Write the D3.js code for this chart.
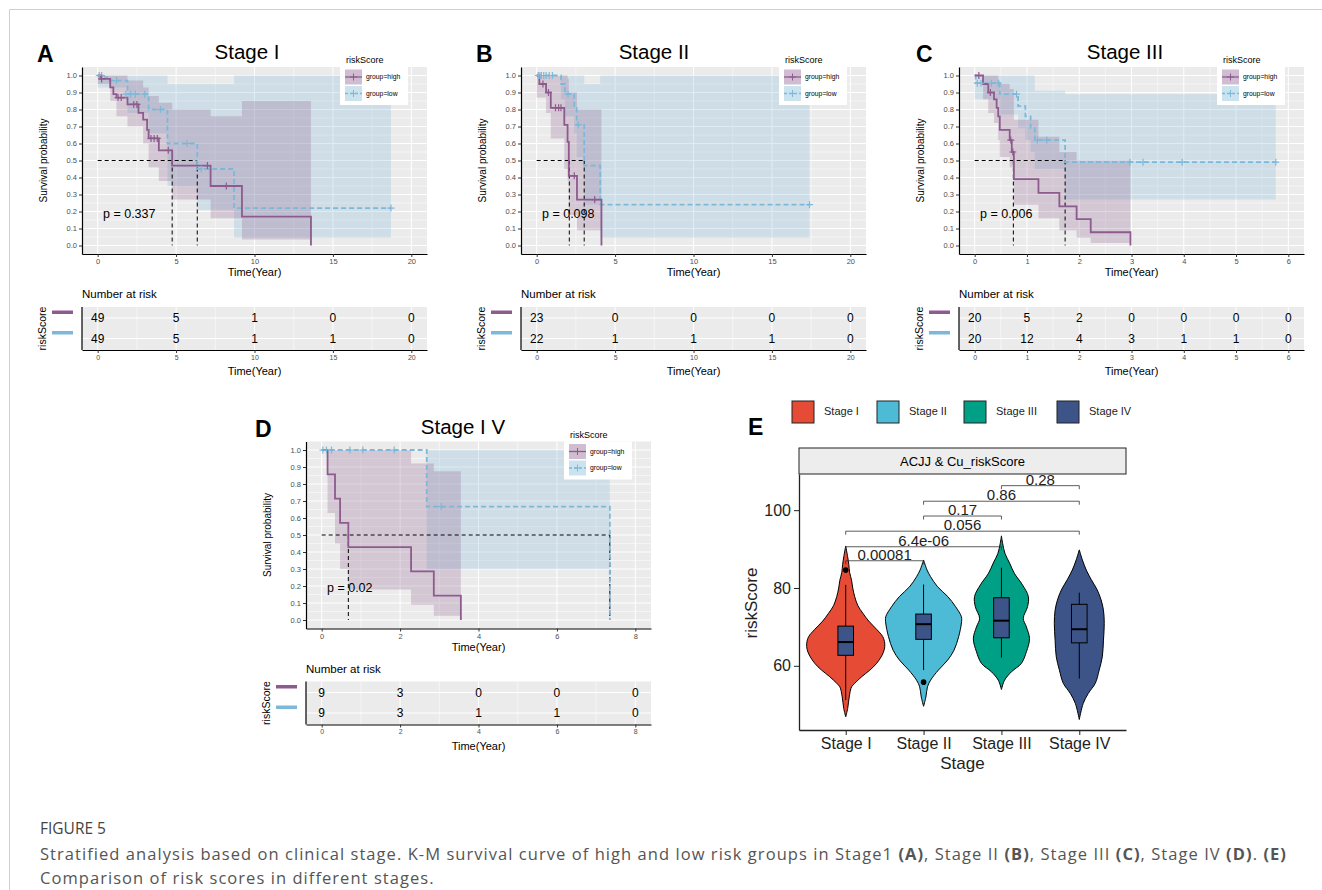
<!DOCTYPE html>
<html>
<head>
<meta charset="utf-8">
<script src="https://cdn.jsdelivr.net/npm/d3@7"></script>
<style>
  body { margin: 0; background: #fff; }
  text { font-family: Arial, "Liberation Sans", sans-serif; }
</style>
</head>
<body>
<svg id="fig" width="1322" height="890"></svg>
<script>
// ---------- KM panels (A-D) ----------
const kmTitles = ["Stage I", "Stage II", "Stage III", "Stage I V"];
const kmLetters = ["A", "B", "C", "D"];
const kmPvals = ["p = 0.337", "p = 0.098", "p = 0.006", "p = 0.02"];
const kmTicks = [[0, 5, 10, 15, 20], [0, 5, 10, 15, 20], [0, 1, 2, 3, 4, 5, 6], [0, 2, 4, 6, 8]];
const kmMedians = [[4.75, 6.35], [2.08, 3.03], [0.74, 1.73], [0.68, 7.35]];
const groupLabels = ["group=high", "group=low"];

// number at risk, one value per x tick
const riskHigh = [[49, 5, 1, 0, 0], [23, 0, 0, 0, 0], [20, 5, 2, 0, 0, 0, 0], [9, 3, 0, 0, 0]];
const riskLow = [[49, 5, 1, 1, 0], [22, 1, 1, 1, 0], [20, 12, 4, 3, 1, 1, 0], [9, 3, 1, 1, 0]];

// survival steps [time, surv]
const stage1High = [[0, 1], [0.15, 0.98], [0.8, 0.93], [1.0, 0.89], [1.2, 0.87], [1.9, 0.83], [2.6, 0.78], [2.9, 0.74], [3.15, 0.68], [3.25, 0.63], [3.9, 0.56], [4.75, 0.47], [7.2, 0.35], [9.2, 0.17], [13.6, 0]];
const stage1Low = [[0, 1], [0.3, 0.99], [0.6, 0.97], [1.9, 0.89], [3.25, 0.80], [4.45, 0.60], [6.35, 0.45], [8.7, 0.22], [18.7, 0.22]];
const stage2High = [[0, 1], [0.17, 0.95], [0.6, 0.90], [0.9, 0.81], [1.76, 0.71], [1.97, 0.61], [2.05, 0.41], [2.57, 0.27], [4.13, 0]];
const stage2Low = [[0, 1], [1.55, 0.95], [1.8, 0.89], [2.4, 0.81], [2.55, 0.71], [3.03, 0.47], [4.05, 0.24], [17.4, 0.24]];
const stage3High = [[0, 1], [0.16, 0.95], [0.26, 0.90], [0.37, 0.86], [0.42, 0.81], [0.45, 0.76], [0.48, 0.68], [0.67, 0.62], [0.71, 0.55], [0.75, 0.39], [1.22, 0.31], [1.62, 0.23], [1.95, 0.155], [2.22, 0.078], [2.98, 0]];
const stage3Low = [[0, 1], [0.02, 0.955], [0.48, 0.89], [0.83, 0.82], [0.97, 0.76], [1.07, 0.69], [1.15, 0.62], [1.73, 0.49], [5.76, 0.49]];
const stage4High = [[0, 1], [0.15, 0.857], [0.34, 0.714], [0.47, 0.571], [0.68, 0.429], [2.28, 0.286], [2.86, 0.143], [3.55, 0]];
const stage4Low = [[0, 1], [2.68, 0.667], [7.35, 0]];

// censor marks [time, surv]
const stage1HighCens = [[0.25, 0.98], [1.3, 0.87], [1.5, 0.87], [2.3, 0.83], [2.5, 0.83], [3.4, 0.63], [3.6, 0.63], [3.8, 0.63], [4.5, 0.56], [7.0, 0.47], [8.2, 0.35]];
const stage1LowCens = [[0.1, 1], [0.25, 1], [1.2, 0.97], [1.8, 0.89], [2.1, 0.89], [2.4, 0.89], [3.0, 0.89], [4.0, 0.80], [5.7, 0.60], [6.6, 0.45], [18.7, 0.22]];
const stage2HighCens = [[0.4, 0.95], [0.75, 0.90], [1.2, 0.81], [1.4, 0.81], [1.55, 0.81], [2.4, 0.41], [3.7, 0.27]];
const stage2LowCens = [[0.1, 1], [0.2, 1], [0.3, 1], [0.45, 1], [0.6, 1], [0.8, 1], [1.0, 1], [2.0, 0.89], [2.65, 0.71], [17.4, 0.24]];
const stage3HighCens = [[0.08, 1], [0.3, 0.90], [0.69, 0.62], [0.73, 0.55]];
const stage3LowCens = [[0.05, 0.955], [0.12, 0.955], [0.32, 0.955], [0.45, 0.955], [0.8, 0.89], [1.2, 0.62], [1.38, 0.62], [2.97, 0.49], [3.22, 0.49], [3.97, 0.49], [5.76, 0.49]];
const stage4HighCens = [];
const stage4LowCens = [[0.03, 1], [0.12, 1], [0.25, 1], [0.72, 1], [1.05, 1], [1.85, 1], [3.05, 0.667]];

// confidence bands [time, lower, upper]
const stage1HighBand = [[0, 0.95, 1], [0.8, 0.85, 1], [1.2, 0.76, 1], [1.9, 0.70, 0.97], [2.9, 0.60, 0.93], [3.25, 0.46, 0.88], [3.9, 0.38, 0.84], [4.75, 0.27, 0.80], [7.2, 0.16, 0.76], [9.2, 0.035, 0.85], [13.6, 0.035, 0.85]];
const stage1LowBand = [[0, 0.93, 1], [1.9, 0.78, 1], [3.25, 0.66, 1], [4.45, 0.35, 0.95], [6.35, 0.21, 0.95], [8.7, 0.045, 1], [18.7, 0.045, 1]];
const stage2HighBand = [[0, 0.87, 1], [0.6, 0.78, 1], [0.9, 0.63, 1], [1.76, 0.45, 1], [1.97, 0.38, 0.98], [2.05, 0.18, 0.90], [2.57, 0.09, 0.80], [4.13, 0.09, 0.80]];
const stage2LowBand = [[0, 1, 1], [1.55, 0.86, 1], [1.8, 0.76, 1], [2.4, 0.66, 1], [2.55, 0.52, 1], [3.03, 0.24, 0.95], [4.05, 0.045, 1], [17.4, 0.045, 1]];
const stage3HighBand = [[0, 1, 1], [0.16, 0.86, 1], [0.26, 0.78, 1], [0.37, 0.72, 1], [0.45, 0.62, 0.97], [0.48, 0.52, 0.95], [0.67, 0.46, 0.92], [0.75, 0.24, 0.74], [1.22, 0.16, 0.64], [1.62, 0.09, 0.55], [1.95, 0.045, 0.50], [2.22, 0.015, 0.50], [2.98, 0.015, 0.50]];
const stage3LowBand = [[0, 0.86, 1], [0.48, 0.77, 1], [0.83, 0.69, 1], [0.97, 0.62, 1], [1.07, 0.55, 1], [1.15, 0.45, 0.91], [1.73, 0.27, 0.89], [5.76, 0.27, 0.89]];
const stage4HighBand = [[0, 1, 1], [0.15, 0.63, 1], [0.34, 0.45, 1], [0.47, 0.30, 1], [0.68, 0.18, 1], [2.28, 0.09, 0.92], [2.86, 0.025, 0.875], [3.55, 0.025, 0.875]];
const stage4LowBand = [[0, 1, 1], [2.68, 0.30, 1], [7.35, 0.30, 1]];

const highCurves = [stage1High, stage2High, stage3High, stage4High];
const lowCurves = [stage1Low, stage2Low, stage3Low, stage4Low];
const highCens = [stage1HighCens, stage2HighCens, stage3HighCens, stage4HighCens];
const lowCens = [stage1LowCens, stage2LowCens, stage3LowCens, stage4LowCens];
const highBands = [stage1HighBand, stage2HighBand, stage3HighBand, stage4HighBand];
const lowBands = [stage1LowBand, stage2LowBand, stage3LowBand, stage4LowBand];

// ---------- violin panel (E) ----------
const stages = ["Stage I", "Stage II", "Stage III", "Stage IV"];
const stageColors = ["#E64B35", "#4DBBD5", "#00A087", "#3C5488"];
// violin outline: [riskScore, relative half width]
const violinI = [[46.9, 0], [49, 0.05], [52, 0.09], [54.6, 0.15], [55.5, 0.23], [57.2, 0.41], [58.9, 0.62], [60.6, 0.79], [62.5, 0.92], [64.2, 0.99], [65.8, 1], [67.5, 0.95], [69.4, 0.79], [71.5, 0.59], [73.5, 0.44], [75.5, 0.31], [77.8, 0.23], [80, 0.18], [82, 0.15], [84, 0.1], [86, 0.08], [88, 0.05], [90.8, 0]];
const violinII = [[49.6, 0], [52, 0.06], [54.6, 0.1], [56.3, 0.18], [58.9, 0.38], [61.5, 0.62], [64, 0.78], [67.5, 0.9], [71, 0.97], [72.6, 0.97], [75.2, 0.82], [77.8, 0.62], [80.3, 0.36], [82.9, 0.18], [84.6, 0.09], [87.2, 0]];
const violinIII = [[53.9, 0], [56.3, 0.08], [58.5, 0.26], [60.6, 0.51], [63.6, 0.64], [67, 0.72], [70, 0.64], [72.2, 0.56], [75.2, 0.67], [77.8, 0.69], [80.8, 0.54], [83.8, 0.33], [86.4, 0.21], [88.9, 0.09], [91.5, 0.03], [93.4, 0]];
const violinIV = [[46.2, 0], [50.3, 0.1], [52.9, 0.23], [55.5, 0.41], [58.9, 0.51], [62.3, 0.59], [66.6, 0.62], [70.9, 0.64], [74.3, 0.62], [76.9, 0.56], [79.5, 0.46], [82.1, 0.31], [84.6, 0.18], [87.2, 0.08], [89.8, 0]];
const violins = [violinI, violinII, violinIII, violinIV];
// box stats: [lower whisker, q1, median, q3, upper whisker]
const boxStats = [[51.2, 62.7, 66.1, 70.2, 80.8], [58.9, 66.8, 70.7, 73.3, 80.9], [62.1, 67.2, 71.6, 77.5, 85.2], [56.7, 65.9, 69.4, 75.8, 78.8]];
const outliers = [[84.6], [55.8], [], []];
const compPairs = [[0, 1], [0, 2], [0, 3], [1, 2], [1, 3], [2, 3]];
const compLabels = ["0.00081", "6.4e-06", "0.056", "0.17", "0.86", "0.28"];
const compY = [87.0, 90.6, 94.6, 98.5, 102.3, 106.3];
const scoreTicks = [60, 80, 100];

// ---------- drawing ----------
const svg = d3.select("#fig");
const HIGH = "#8D5B8D", LOW = "#7DB8D8";
const PW = 345, PH = 187;
const kmLayout = [
  { x: 82, y: 67, titleX: 247, letterX: 37 },
  { x: 521, y: 67, titleX: 654, letterX: 476 },
  { x: 959, y: 67, titleX: 1125, letterX: 916 },
  { x: 306, y: 441.5, titleX: 463, letterX: 255 }
];

// figure frame
svg.append("line").attr("x1", 9.5).attr("x2", 1322).attr("y1", 9.5).attr("y2", 9.5).attr("stroke", "#cfcfcf");
svg.append("line").attr("x1", 9.5).attr("x2", 9.5).attr("y1", 9.5).attr("y2", 890).attr("stroke", "#cfcfcf");

function plus(g, pts, x, y, color) {
  g.selectAll(null).data(pts).join("path")
    .attr("transform", d => `translate(${x(d[0])},${y(d[1])})`)
    .attr("d", "M-3.5,0H3.5M0,-3.5V3.5")
    .attr("stroke", color).attr("stroke-width", 1.2).attr("fill", "none");
}

function drawKM(i) {
  const L = kmLayout[i];
  const ticks = kmTicks[i];
  const tmax = ticks[ticks.length - 1];
  const step = ticks[1] - ticks[0];
  const x = d3.scaleLinear().domain([-0.05 * tmax, 1.05 * tmax]).range([L.x, L.x + PW]);
  const y = d3.scaleLinear().domain([-0.05, 1.05]).range([L.y + PH, L.y]);
  const fmtX = d3.format("~g");
  const g = svg.append("g");

  // panel + grid
  g.append("rect").attr("x", L.x).attr("y", L.y).attr("width", PW).attr("height", PH).attr("fill", "#EBEBEB");
  const minorX = ticks.slice(0, -1).map(t => t + step / 2);
  const minorY = d3.range(0.05, 1.0, 0.1);
  g.selectAll(null).data(minorX).join("line")
    .attr("x1", d => x(d)).attr("x2", d => x(d)).attr("y1", L.y).attr("y2", L.y + PH)
    .attr("stroke", "#fff").attr("stroke-width", 0.5);
  g.selectAll(null).data(minorY).join("line")
    .attr("y1", d => y(d)).attr("y2", d => y(d)).attr("x1", L.x).attr("x2", L.x + PW)
    .attr("stroke", "#fff").attr("stroke-width", 0.5);
  g.selectAll(null).data(ticks).join("line")
    .attr("x1", d => x(d)).attr("x2", d => x(d)).attr("y1", L.y).attr("y2", L.y + PH)
    .attr("stroke", "#fff").attr("stroke-width", 1);
  g.selectAll(null).data(d3.range(0, 11).map(k => k / 10)).join("line")
    .attr("y1", d => y(d)).attr("y2", d => y(d)).attr("x1", L.x).attr("x2", L.x + PW)
    .attr("stroke", "#fff").attr("stroke-width", 1);

  // confidence bands
  const band = d3.area().curve(d3.curveStepAfter)
    .x(d => x(d[0])).y0(d => y(d[1])).y1(d => y(d[2]));
  g.append("path").attr("d", band(lowBands[i])).attr("fill", LOW).attr("fill-opacity", 0.25);
  g.append("path").attr("d", band(highBands[i])).attr("fill", HIGH).attr("fill-opacity", 0.25);

  // median lines
  const med = kmMedians[i];
  g.append("line").attr("x1", x(0)).attr("x2", x(d3.max(med))).attr("y1", y(0.5)).attr("y2", y(0.5))
    .attr("stroke", "#000").attr("stroke-width", 1).attr("stroke-dasharray", "4,3");
  g.selectAll(null).data(med).join("line")
    .attr("x1", d => x(d)).attr("x2", d => x(d)).attr("y1", y(0.5)).attr("y2", y(0))
    .attr("stroke", "#000").attr("stroke-width", 1).attr("stroke-dasharray", "4,3");

  // survival curves
  const line = d3.line().curve(d3.curveStepAfter).x(d => x(d[0])).y(d => y(d[1]));
  g.append("path").attr("d", line(lowCurves[i])).attr("fill", "none")
    .attr("stroke", LOW).attr("stroke-width", 1.8).attr("stroke-dasharray", "5,3");
  g.append("path").attr("d", line(highCurves[i])).attr("fill", "none")
    .attr("stroke", HIGH).attr("stroke-width", 1.8);
  plus(g, lowCens[i], x, y, LOW);
  plus(g, highCens[i], x, y, HIGH);

  // p value
  g.append("text").attr("x", L.x + 21).attr("y", L.y + 150.5).attr("font-size", 12.5).text(kmPvals[i]);

  // axes
  const ax = g.append("g").attr("transform", `translate(0,${L.y + PH})`)
    .call(d3.axisBottom(x).tickValues(ticks).tickFormat(fmtX).tickSize(3).tickSizeOuter(0).tickPadding(2));
  const ay = g.append("g").attr("transform", `translate(${L.x},0)`)
    .call(d3.axisLeft(y).tickValues(d3.range(0, 11).map(k => k / 10)).tickFormat(d3.format(".1f"))
      .tickSize(3).tickSizeOuter(0).tickPadding(2));
  [ax, ay].forEach(a => {
    a.attr("font-family", null).attr("font-size", 7.5);
    a.select(".domain").attr("stroke", "#000").attr("stroke-width", 1.2);
    a.selectAll(".tick line").attr("stroke", "#333");
    a.selectAll(".tick text").attr("fill", "#4d4d4d");
  });

  // labels
  g.append("text").attr("x", L.titleX).attr("y", L.y - 8).attr("text-anchor", "middle")
    .attr("font-size", 20.5).text(kmTitles[i]);
  g.append("text").attr("x", L.letterX).attr("y", L.y - 5).attr("font-size", 23)
    .attr("font-weight", "bold").text(kmLetters[i]);
  g.append("text").attr("x", L.x + PW / 2).attr("y", L.y + 209).attr("text-anchor", "middle")
    .attr("font-size", 11).text("Time(Year)");
  g.append("text").attr("transform", `translate(${L.x - 35},${L.y + PH / 2}) rotate(-90)`)
    .attr("text-anchor", "middle").attr("font-size", 10).text("Survival probability");

  // legend
  const lg = g.append("g").attr("transform", `translate(${L.x + 258},${L.y})`);
  lg.append("text").attr("x", 6).attr("y", -4).attr("font-size", 9).text("riskScore");
  lg.append("rect").attr("width", 68).attr("height", 38).attr("fill", "#fff");
  [[HIGH, null], [LOW, "3,2"]].forEach(([c, dash], k) => {
    const ky = 2.5 + k * 16.5;
    lg.append("rect").attr("x", 5).attr("y", ky).attr("width", 17).attr("height", 15)
      .attr("fill", c).attr("fill-opacity", 0.4);
    lg.append("line").attr("x1", 5).attr("x2", 22).attr("y1", ky + 7.5).attr("y2", ky + 7.5)
      .attr("stroke", c).attr("stroke-width", 1.3).attr("stroke-dasharray", dash);
    lg.append("path").attr("d", `M10,${ky + 7.5}h7M13.5,${ky + 4}v7`).attr("stroke", c).attr("stroke-width", 1);
    lg.append("text").attr("x", 26).attr("y", ky + 7.5).attr("dy", "0.35em").attr("font-size", 6.8)
      .text(groupLabels[k]);
  });

  // risk table
  const ty = L.y + 240, TH = 43;
  const rows = [ty + 11, ty + 31.5];
  const tg = svg.append("g");
  tg.append("text").attr("x", L.x).attr("y", ty - 9).attr("font-size", 11.5).text("Number at risk");
  tg.append("rect").attr("x", L.x).attr("y", ty).attr("width", PW).attr("height", TH).attr("fill", "#EBEBEB");
  tg.selectAll(null).data(minorX).join("line")
    .attr("x1", d => x(d)).attr("x2", d => x(d)).attr("y1", ty).attr("y2", ty + TH)
    .attr("stroke", "#fff").attr("stroke-width", 0.5);
  tg.selectAll(null).data(ticks).join("line")
    .attr("x1", d => x(d)).attr("x2", d => x(d)).attr("y1", ty).attr("y2", ty + TH)
    .attr("stroke", "#fff").attr("stroke-width", 1);
  tg.selectAll(null).data(rows).join("line")
    .attr("x1", L.x).attr("x2", L.x + PW).attr("y1", d => d).attr("y2", d => d)
    .attr("stroke", "#fff").attr("stroke-width", 1);
  [riskHigh[i], riskLow[i]].forEach((vals, r) => {
    tg.selectAll(null).data(vals).join("text")
      .attr("x", (d, k) => x(ticks[k])).attr("y", rows[r]).attr("dy", "0.36em")
      .attr("text-anchor", "middle").attr("font-size", 12).text(d => d);
    tg.append("rect").attr("x", L.x - 30).attr("y", rows[r] - 7.5).attr("width", 21).attr("height", 3.5)
      .attr("fill", r === 0 ? HIGH : LOW);
  });
  const tax = tg.append("g").attr("transform", `translate(0,${ty + TH})`)
    .call(d3.axisBottom(x).tickValues(ticks).tickFormat(fmtX).tickSize(3).tickSizeOuter(0).tickPadding(2));
  tax.attr("font-family", null).attr("font-size", 7);
  tax.select(".domain").attr("stroke", "#000").attr("stroke-width", 1.2);
  tax.selectAll(".tick line").attr("stroke", "#333");
  tax.selectAll(".tick text").attr("fill", "#4d4d4d");
  tg.append("line").attr("x1", L.x).attr("x2", L.x).attr("y1", ty).attr("y2", ty + TH)
    .attr("stroke", "#000").attr("stroke-width", 1.2);
  tg.append("text").attr("x", L.x + PW / 2).attr("y", ty + 68).attr("text-anchor", "middle")
    .attr("font-size", 11).text("Time(Year)");
  tg.append("text").attr("transform", `translate(${L.x - 36},${ty + TH / 2}) rotate(-90)`)
    .attr("text-anchor", "middle").attr("font-size", 10.5).text("riskScore");
}

kmTitles.forEach((_, i) => drawKM(i));

// ---------- violin panel ----------
(function drawViolin() {
  const left = 799, right = 1126, top = 474, bottom = 730;
  const g = svg.append("g");
  const x = d3.scalePoint().domain(stages).range([left, right]).padding(0.6);
  const y = d3.scaleLinear().domain([43.5, 109.3]).range([bottom, top]);
  const w = d3.scaleLinear().domain([0, 1]).range([0, 39]);

  stages.forEach((s, i) => {
    const cx = x(s);
    const area = d3.area().curve(d3.curveCatmullRom)
      .y(d => y(d[0])).x0(d => cx - w(d[1])).x1(d => cx + w(d[1]));
    g.append("path").attr("d", area(violins[i])).attr("fill", stageColors[i])
      .attr("stroke", "#000").attr("stroke-width", 1);
    const b = boxStats[i];
    g.append("line").attr("x1", cx).attr("x2", cx).attr("y1", y(b[0])).attr("y2", y(b[1])).attr("stroke", "#000");
    g.append("line").attr("x1", cx).attr("x2", cx).attr("y1", y(b[3])).attr("y2", y(b[4])).attr("stroke", "#000");
    g.append("rect").attr("x", cx - 7.8).attr("width", 15.6).attr("y", y(b[3])).attr("height", y(b[1]) - y(b[3]))
      .attr("fill", "#3C5488").attr("stroke", "#000").attr("stroke-width", 1);
    g.append("line").attr("x1", cx - 7.8).attr("x2", cx + 7.8).attr("y1", y(b[2])).attr("y2", y(b[2]))
      .attr("stroke", "#000").attr("stroke-width", 2);
    g.selectAll(null).data(outliers[i]).join("circle")
      .attr("cx", cx).attr("cy", d => y(d)).attr("r", 2.8).attr("fill", "#000");
  });

  // comparisons
  compPairs.forEach(([a, b], k) => {
    const yy = y(compY[k]);
    g.append("path").attr("d", `M${x(stages[a])},${yy + 3.5}V${yy}H${x(stages[b])}V${yy + 3.5}`)
      .attr("fill", "none").attr("stroke", "#333").attr("stroke-width", 0.8);
    g.append("text").attr("x", (x(stages[a]) + x(stages[b])) / 2).attr("y", yy - 1)
      .attr("text-anchor", "middle").attr("font-size", 15).attr("fill", "#222").text(compLabels[k]);
  });

  // strip (drawn on top so the highest label is cut as in the figure)
  g.append("rect").attr("x", left).attr("y", 448).attr("width", right - left).attr("height", top - 448)
    .attr("fill", "#EDEDED").attr("stroke", "#222").attr("stroke-width", 1);
  g.append("text").attr("x", (left + right) / 2).attr("y", 461).attr("dy", "0.36em")
    .attr("text-anchor", "middle").attr("font-size", 13).text("ACJJ & Cu_riskScore");

  // axes
  const ax = g.append("g").attr("transform", `translate(0,${bottom})`)
    .call(d3.axisBottom(x).tickSize(5).tickSizeOuter(0).tickPadding(3));
  const ay = g.append("g").attr("transform", `translate(${left},0)`)
    .call(d3.axisLeft(y).tickValues(scoreTicks).tickSize(5).tickSizeOuter(0).tickPadding(3));
  [ax, ay].forEach(a => {
    a.attr("font-family", null).attr("font-size", 16);
    a.select(".domain").attr("stroke", "#222").attr("stroke-width", 1.3);
    a.selectAll(".tick line").attr("stroke", "#222");
    a.selectAll(".tick text").attr("fill", "#222");
  });
  g.append("text").attr("x", (left + right) / 2).attr("y", 769).attr("text-anchor", "middle")
    .attr("font-size", 17).attr("fill", "#222").text("Stage");
  g.append("text").attr("transform", `translate(757,603) rotate(-90)`).attr("text-anchor", "middle")
    .attr("font-size", 17).attr("fill", "#222").text("riskScore");
  g.append("text").attr("x", 748).attr("y", 435).attr("font-size", 23).attr("font-weight", "bold").text("E");

  // legend
  const legX = [792, 877, 964, 1057];
  stages.forEach((s, i) => {
    g.append("rect").attr("x", legX[i]).attr("y", 401).attr("width", 22).attr("height", 22)
      .attr("fill", stageColors[i]).attr("stroke", "#222").attr("stroke-width", 1);
    g.append("text").attr("x", legX[i] + 32).attr("y", 411).attr("dy", "0.35em")
      .attr("font-size", 11).attr("fill", "#222").text(s);
  });
})();

// ---------- caption ----------
const capFont = "'Open Sans', sans-serif";
const cap = svg.append("g").attr("fill", "#555");
cap.append("text").attr("x", 40).attr("y", 834).attr("font-size", 15.5).attr("fill", "#444")
  .style("font-family", capFont).text("FIGURE 5");
const line1 = cap.append("text").attr("x", 40).attr("y", 860).attr("font-size", 16.5)
  .style("font-family", capFont);
[["Stratified analysis based on clinical stage. K-M survival curve of high and low risk groups in Stage1 ", false],
 ["(A)", true], [", Stage II ", false], ["(B)", true], [", Stage III ", false], ["(C)", true],
 [", Stage IV ", false], ["(D)", true], [". ", false], ["(E)", true]].forEach(([t, b]) => {
  line1.append("tspan").attr("font-weight", b ? "bold" : null).text(t);
});
const line2 = cap.append("text").attr("x", 40).attr("y", 884).attr("font-size", 16.5)
  .style("font-family", capFont).text("Comparison of risk scores in different stages.");
// spread the caption to the width it takes in the figure
const ls = (1247 - line1.node().getComputedTextLength()) / line1.text().length;
line1.attr("letter-spacing", ls);
line2.attr("letter-spacing", ls);
</script>
</body>
</html>
